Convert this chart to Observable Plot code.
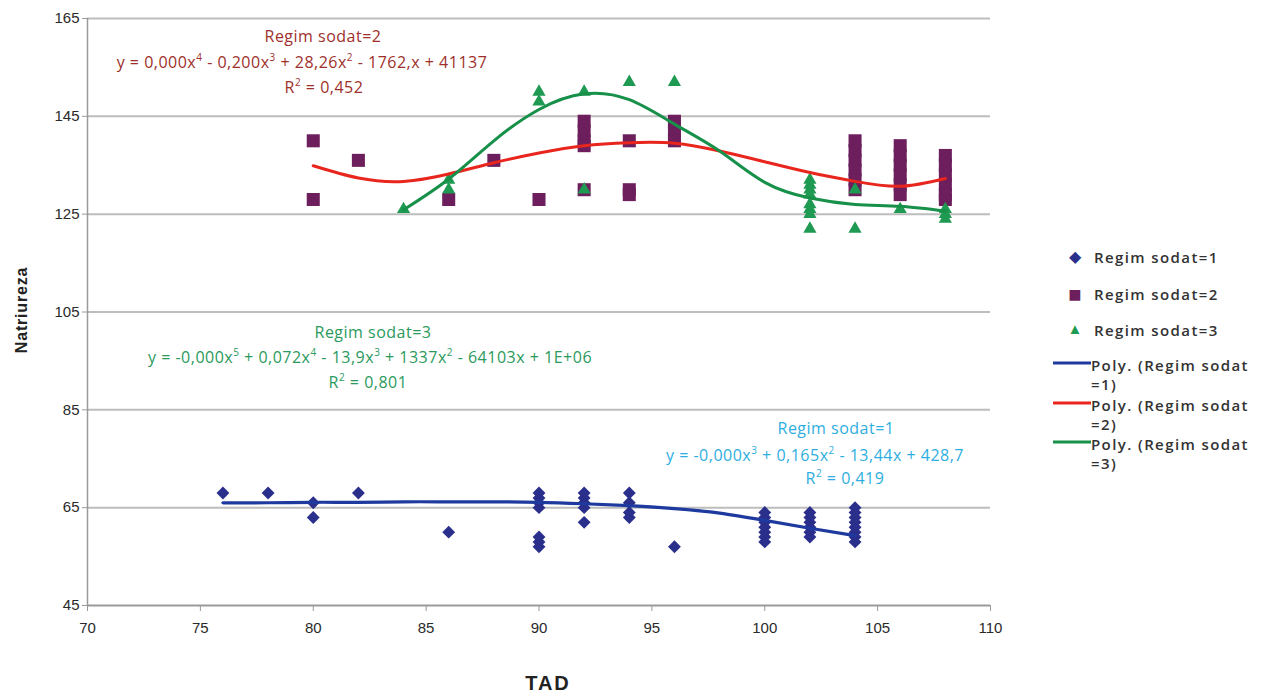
<!DOCTYPE html>
<html>
<head>
<meta charset="utf-8">
<script src="https://cdn.jsdelivr.net/npm/d3@7"></script>
<script src="https://cdn.jsdelivr.net/npm/@observablehq/plot@0.6"></script>
<style>
  body { margin: 0; background: #fff; }
  #wrap { position: relative; width: 1265px; height: 696px; font-family: "Open Sans", sans-serif; }
  #wrap svg { position: absolute; left: 0; top: 0; }
  .ann { position: absolute; white-space: nowrap; transform: translate(-50%, -50%); font-size: 16px; letter-spacing: 0.5px; line-height: 1; }
  .ann sup { font-size: 10px; vertical-align: 7px; line-height: 0; }
  .lg { position: absolute; white-space: nowrap; font-size: 15px; color: #333; font-weight: 600; letter-spacing: 1.4px; transform: translateY(-50%); line-height: 1; }
  .mk { position: absolute; transform: translate(-50%, -50%); line-height: 1; }
  .ln { position: absolute; height: 3px; width: 38px; transform: translateY(-50%); }
  .axt { position: absolute; font-family: "Liberation Sans", Arial, sans-serif; font-weight: bold; color: #222; white-space: nowrap; }
</style>
</head>
<body>
<div id="wrap"></div>
<script>
// ---- data ----
const xTicks = [70, 75, 80, 85, 90, 95, 100, 105, 110];
const yTicks = [45, 65, 85, 105, 125, 145, 165];

const seriesNames = ["Regim sodat=1", "Regim sodat=2", "Regim sodat=3"];
const trendNames = ["Poly. (Regim sodat", "Poly. (Regim sodat", "Poly. (Regim sodat"];

// Regim sodat = 1 (diamonds)
const s1X = [76, 78, 80, 80, 82, 86, 90, 90, 90, 90, 90, 90, 90, 92, 92, 92, 92, 92, 94, 94, 94, 94, 96,
             100, 100, 100, 100, 100, 100, 100, 102, 102, 102, 102, 102, 102, 104, 104, 104, 104, 104, 104, 104, 104];
const s1Y = [68, 68, 66, 63, 68, 60, 68, 67, 66, 65, 59, 58, 57, 68, 67, 66, 65, 62, 68, 66, 64, 63, 57,
             64, 63, 62, 61, 60, 59, 58, 64, 63, 62, 61, 60, 59, 65, 64, 63, 62, 61, 60, 59, 58];

// Regim sodat = 2 (squares)
const s2X = [80, 80, 82, 86, 88, 90, 92, 92, 92, 92, 92, 94, 94, 94, 96, 96, 96,
             104, 104, 104, 104, 104, 104, 106, 106, 106, 106, 106, 106, 108, 108, 108, 108, 108, 108];
const s2Y = [140, 128, 136, 128, 136, 128, 144, 142, 140, 139, 130, 140, 130, 129, 144, 142, 140,
             140, 138, 136, 134, 132, 130, 139, 137, 135, 133, 131, 129, 137, 135, 133, 131, 129, 128];

// Regim sodat = 3 (triangles)
const s3X = [84, 86, 86, 90, 90, 92, 92, 94, 96, 102, 102, 102, 102, 102, 102, 102, 102, 104, 104, 106, 108, 108, 108];
const s3Y = [126, 132, 130, 150, 148, 150, 130, 152, 152, 132, 131, 130, 129, 127, 126, 125, 122, 130, 122, 126, 126, 125, 124];

// Polynomial trend lines
const t1X = [76, 78, 80, 82, 84, 86, 88, 90, 92, 94, 96, 98, 100, 102, 104];
const t1Y = [66.0, 66.0, 66.1, 66.1, 66.2, 66.2, 66.2, 66.1, 65.8, 65.4, 64.8, 63.9, 62.4, 60.8, 59.3];
const t2X = [80, 82, 84, 86, 88, 90, 92, 94, 96, 98, 100, 102, 104, 106, 108];
const t2Y = [134.9, 132.4, 131.7, 133.2, 135.5, 137.5, 139.0, 139.6, 139.5, 137.9, 135.7, 133.5, 131.7, 130.7, 132.3];
const t3X = [84, 86, 88, 90, 92, 94, 96, 98, 100, 102, 104, 106, 108];
const t3Y = [125.9, 132.2, 140.0, 146.4, 149.6, 148.4, 143.4, 137.9, 131.5, 128.3, 127.0, 126.6, 125.6];

// ---- colours ----
const colDiamond = "#2b2f8c", colSquare = "#6c1f5c", colTriangle = "#1f9a52";
const colT1 = "#1f3a9e", colT2 = "#e8261e", colT3 = "#17904a";

const pts = (xs, ys) => xs.map((x, i) => ({x, y: ys[i]}));

const chart = Plot.plot({
  width: 1265, height: 696,
  marginLeft: 87, marginRight: 275, marginTop: 18, marginBottom: 91,
  style: {fontFamily: "'Liberation Sans', Arial, sans-serif", fontSize: "15px", color: "#2a2a2a", background: "transparent"},
  x: {domain: [70, 110]},
  y: {domain: [45, 165]},
  marks: [
    Plot.gridY(yTicks, {stroke: "#bdbdbd", strokeOpacity: 1, strokeWidth: 2}),
    Plot.ruleX([70], {stroke: "#9a9a9a", strokeWidth: 1.5}),
    Plot.ruleY([45], {stroke: "#9a9a9a", strokeWidth: 1.5}),
    Plot.axisX(xTicks, {tickSize: 6, tickPadding: 11, stroke: "#9a9a9a", label: null}),
    Plot.axisY(yTicks, {tickSize: 5, tickPadding: 3, stroke: "#9a9a9a", label: null}),
    Plot.dot(pts(s1X, s1Y), {x: "x", y: "y", symbol: "diamond2", r: 5.8, fill: colDiamond}),
    Plot.dot(pts(s2X, s2Y), {x: "x", y: "y", symbol: "square2", r: 8.3, fill: colSquare}),
    Plot.dot(pts(s3X, s3Y), {x: "x", y: "y", symbol: "triangle2", r: 6.3, fill: colTriangle}),
    Plot.line(pts(t1X, t1Y), {x: "x", y: "y", curve: "natural", stroke: colT1, strokeWidth: 3.2}),
    Plot.line(pts(t2X, t2Y), {x: "x", y: "y", curve: "natural", stroke: colT2, strokeWidth: 3}),
    Plot.line(pts(t3X, t3Y), {x: "x", y: "y", curve: "natural", stroke: colT3, strokeWidth: 3})
  ]
});

const wrap = document.getElementById("wrap");
wrap.appendChild(chart);

function addDiv(cls, html, left, top, extra) {
  const d = document.createElement("div");
  d.className = cls;
  d.innerHTML = html;
  d.style.left = left + "px";
  d.style.top = top + "px";
  if (extra) Object.assign(d.style, extra);
  wrap.appendChild(d);
  return d;
}

// axis titles
addDiv("axt", "TAD", 548, 683, {transform: "translate(-50%,-50%)", fontSize: "20px", letterSpacing: "2px"});
addDiv("axt", "Natriureza", 22, 310, {transform: "translate(-50%,-50%) rotate(-90deg)", fontSize: "16px", letterSpacing: "0.8px"});

// trend annotations
const c2 = "#9e2f2b", c3 = "#2a9a5c", c1 = "#2eaee0";
addDiv("ann", "Regim sodat=2", 323, 36, {color: c2});
addDiv("ann", "y = 0,000x<sup>4</sup> - 0,200x<sup>3</sup> + 28,26x<sup>2</sup> - 1762,x + 41137", 302, 62, {color: c2});
addDiv("ann", "R<sup>2</sup> = 0,452", 324, 87, {color: c2});

addDiv("ann", "Regim sodat=3", 373, 332, {color: c3});
addDiv("ann", "y = -0,000x<sup>5</sup> + 0,072x<sup>4</sup> - 13,9x<sup>3</sup> + 1337x<sup>2</sup> - 64103x + 1E+06", 370, 357, {color: c3});
addDiv("ann", "R<sup>2</sup> = 0,801", 368, 382, {color: c3});

addDiv("ann", "Regim sodat=1", 836, 428, {color: c1});
addDiv("ann", "y = -0,000x<sup>3</sup> + 0,165x<sup>2</sup> - 13,44x + 428,7", 815, 455, {color: c1});
addDiv("ann", "R<sup>2</sup> = 0,419", 845, 478, {color: c1});

// legend
addDiv("mk", "◆", 1075, 256, {color: colDiamond, fontSize: "16px"});
addDiv("lg", seriesNames[0], 1094, 257);
addDiv("mk", "■", 1075, 293, {color: colSquare, fontSize: "22px"});
addDiv("lg", seriesNames[1], 1094, 294);
addDiv("mk", "▲", 1075, 328, {color: colTriangle, fontSize: "15px"});
addDiv("lg", seriesNames[2], 1094, 330);

const lineCols = [colT1, colT2, colT3];
const lineY = [363, 403, 442];
const suffix = ["=1)", "=2)", "=3)"];
for (let i = 0; i < 3; i++) {
  addDiv("ln", "", 1053, lineY[i], {background: lineCols[i]});
  addDiv("lg", trendNames[i], 1091, lineY[i] + 2);
  addDiv("lg", suffix[i], 1091, lineY[i] + 21);
}
</script>
</body>
</html>
